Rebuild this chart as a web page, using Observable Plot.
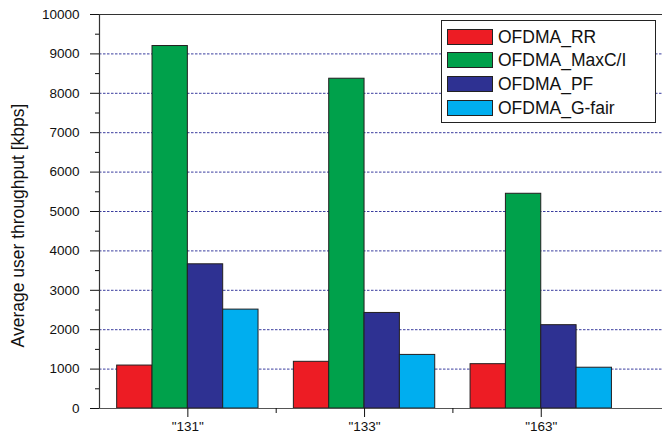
<!DOCTYPE html>
<html>
<head>
<meta charset="utf-8">
<script src="https://cdn.jsdelivr.net/npm/d3@7"></script>
<script src="https://cdn.jsdelivr.net/npm/@observablehq/plot@0.6"></script>
<style>
  html, body { margin: 0; padding: 0; background: #fff; }
  #wrap { position: relative; width: 662px; height: 439px; font-family: "Liberation Sans", Arial, Helvetica, sans-serif; }
  #legend { position: absolute; left: 441px; top: 20px; width: 215px; height: 103px; border: 1px solid #222; background: #fff; box-sizing: border-box; }
  .item { position: absolute; left: 5px; height: 16px; display: flex; align-items: center; }
  .sw { width: 44px; height: 14px; border: 1px solid #222; }
  .lab { margin-left: 5px; font-size: 17.5px; color: #111; line-height: 16px; }
</style>
</head>
<body>
<div id="wrap"></div>
<script>
const categories = ["131", "133", "163"];
const series = ["OFDMA_RR", "OFDMA_MaxC/I", "OFDMA_PF", "OFDMA_G-fair"];
const colors = ["#ED1C24", "#00A14B", "#2E3192", "#00AEEF"];
const rrValues    = [1090, 1185, 1125];
const maxciValues = [9200, 8370, 5450];
const pfValues    = [3660, 2425, 2115];
const gfairValues = [2510, 1360, 1035];
const yTicks = [0, 1000, 2000, 3000, 4000, 5000, 6000, 7000, 8000, 9000, 10000];
const yLabel = "Average user throughput [kbps]";

const seriesValues = [rrValues, maxciValues, pfValues, gfairValues];
const barW = 0.2;
const rows = [];
categories.forEach((c, i) => {
  series.forEach((s, j) => {
    const x1 = (i + 1) - 2 * barW + j * barW;
    rows.push({category: c, series: s, x1, x2: x1 + barW, value: seriesValues[j][i]});
  });
});

const xMax = 0.5 + 563 / 176.7;

const chart = Plot.plot({
  width: 662,
  height: 439,
  marginTop: 14,
  marginBottom: 31,
  marginLeft: 99,
  marginRight: 0,
  style: {fontFamily: "'Liberation Sans', Arial, Helvetica, sans-serif", fontSize: "13.5px", color: "#111", background: "#fff"},
  x: {domain: [0.5, xMax]},
  y: {domain: [0, 10000]},
  color: {domain: series, range: colors},
  marks: [
    Plot.ruleY(yTicks.filter(d => d > 0 && d < 10000), {stroke: "#3a3d9e", strokeDasharray: "2.5,1.5", strokeWidth: 1}),
    Plot.rect(rows, {x1: "x1", x2: "x2", y1: 0, y2: "value", fill: "series", stroke: "#231F20", strokeWidth: 1}),
    Plot.ruleY([10000], {stroke: "#333", strokeWidth: 1.2}),
    Plot.ruleY([0], {stroke: "#555", strokeWidth: 1.2}),
    Plot.ruleX([0.5], {stroke: "#333", strokeWidth: 1.2}),
    Plot.axisY({ticks: yTicks, tickSize: 9, tickPadding: 11, label: null, tickFormat: d => String(d)}),
    Plot.axisY({ticks: d3.range(500, 10000, 1000), tickSize: 4, tickFormat: () => "", label: null}),
    Plot.axisX({ticks: [1, 2, 3], tickSize: 9, tickPadding: 4, label: null, tickFormat: d => `"${categories[d - 1]}"`, fontSize: "13.5px"}),
    Plot.axisX({ticks: [1.5, 2.5], tickSize: 5, tickFormat: () => "", label: null}),
    Plot.text([yLabel], {frameAnchor: "left", textAnchor: "middle", rotate: -90, dx: -81, dy: 14, fontSize: 17.5, fill: "#111"})
  ]
});

const wrap = document.getElementById("wrap");
wrap.appendChild(chart);

const legend = document.createElement("div");
legend.id = "legend";
series.forEach((s, j) => {
  const item = document.createElement("div");
  item.className = "item";
  item.style.top = (7.5 + j * 23.9) + "px";
  const sw = document.createElement("div");
  sw.className = "sw";
  sw.style.background = colors[j];
  const lab = document.createElement("span");
  lab.className = "lab";
  lab.textContent = s;
  item.appendChild(sw);
  item.appendChild(lab);
  legend.appendChild(item);
});
wrap.appendChild(legend);
</script>
</body>
</html>
